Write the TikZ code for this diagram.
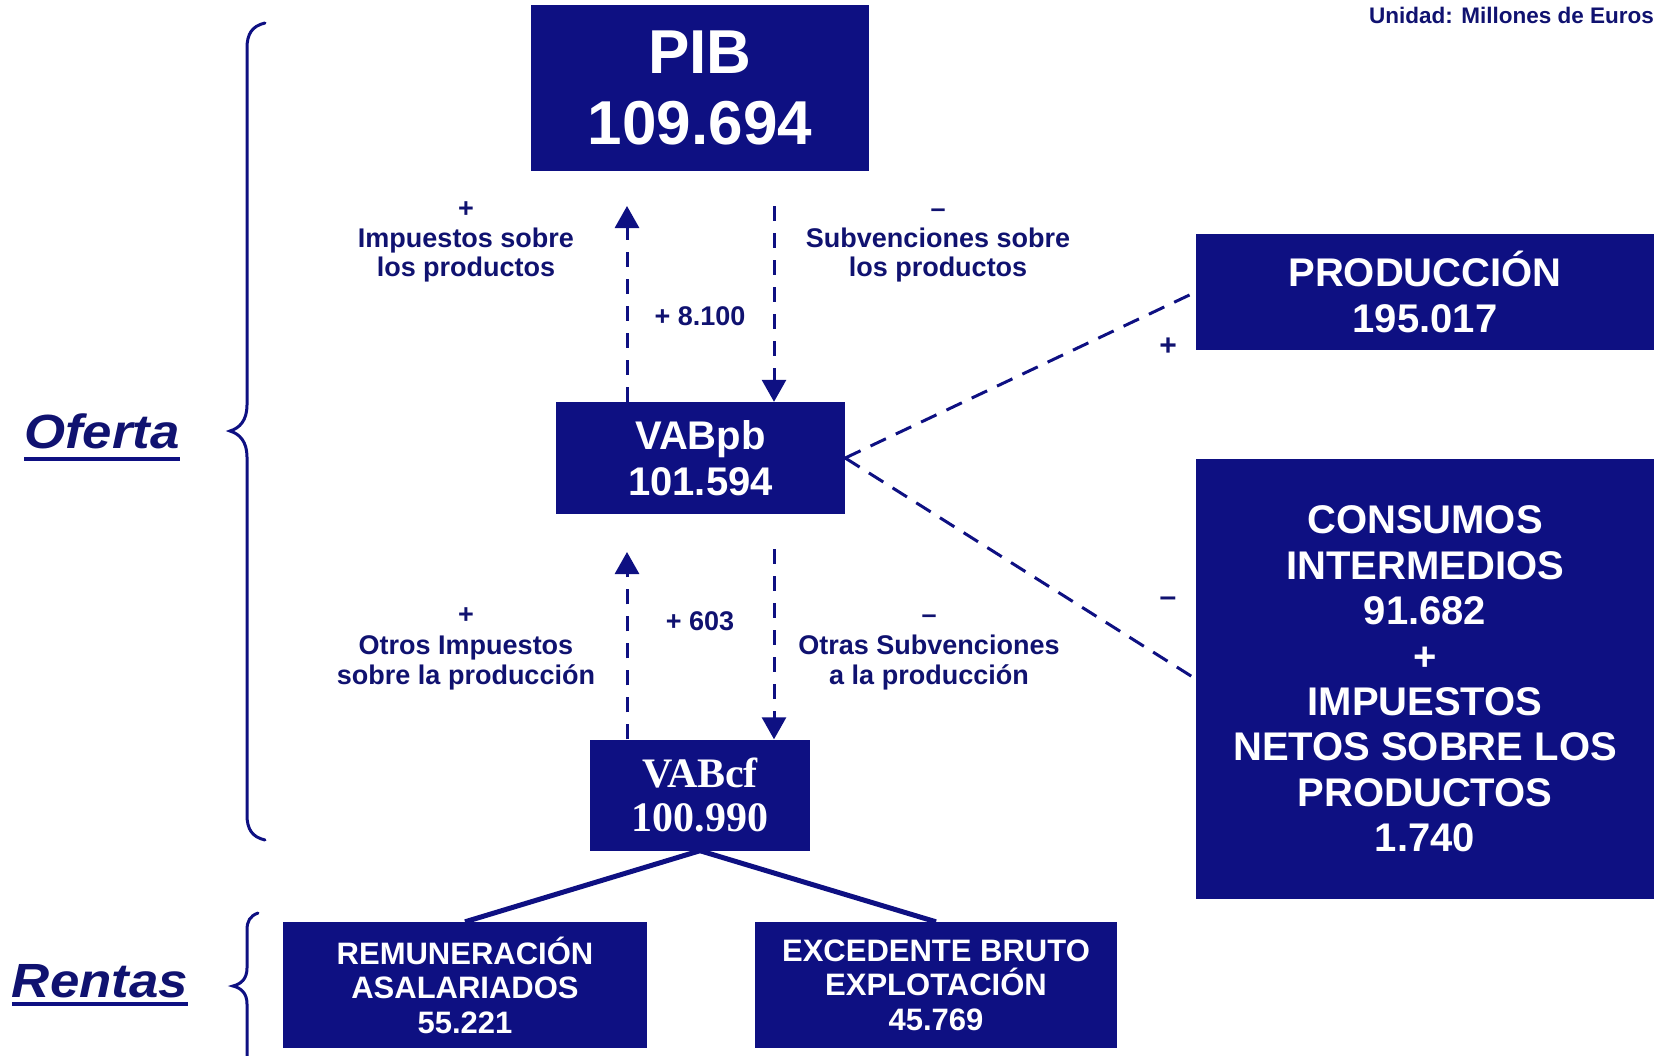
\documentclass[tikz,border=0pt]{standalone}
\usepackage{fontspec}
\setmainfont{Liberation Sans}
\newfontfamily\serifbold{Liberation Serif}
\newfontfamily\widesans[FakeStretch=1.1]{Liberation Sans}
\usetikzlibrary{arrows.meta}
\definecolor{navy}{RGB}{14,16,130}
\definecolor{navytext}{RGB}{16,18,112}
\tikzset{
  box/.style={fill=navy, text=white, inner sep=0pt, align=center},
  bigtxt/.style={font=\bfseries\fontsize{62}{71}\selectfont},
  midtxt/.style={font=\bfseries\fontsize{40}{46}\selectfont},
  smalltxt/.style={font=\bfseries\fontsize{31}{34.5}\selectfont},
  lbl/.style={text=navytext, inner sep=0pt, anchor=base, font=\bfseries\fontsize{27}{29}\selectfont},
  sign/.style={text=navytext, inner sep=0pt, font=\bfseries\fontsize{30}{32}\selectfont},
  dasharrow/.style={draw=navy, line width=3pt, dash pattern=on 15pt off 12pt, -{Triangle[length=22pt,width=24pt]}},
  diag/.style={draw=navy, line width=3pt, dash pattern=on 17pt off 11pt},
  solidline/.style={draw=navy, line width=5pt},
  bracepath/.style={draw=navy, line width=3pt, line cap=round},
  title/.style={text=navytext, inner sep=0pt, anchor=base, font=\widesans\bfseries\itshape\fontsize{48}{50}\selectfont}
}
\begin{document}
\begin{tikzpicture}[x=1pt,y=-1pt]
\useasboundingbox (0,0) rectangle (1656,1055);

% boxes
\node[box, bigtxt, minimum width=338pt, minimum height=166pt] (pib) at (700,88) {PIB\\109.694};
\node[box, midtxt, minimum width=289pt, minimum height=112pt] (vabpb) at (700.5,458) {VABpb\\101.594};
\node[box, font=\serifbold\bfseries\fontsize{42}{44}\selectfont, minimum width=220pt, minimum height=111pt] (vabcf) at (700,795) {VABcf\\100.990};
\node[box, midtxt, minimum width=458pt, minimum height=116pt] (prod) at (1425,292) {PRODUCCIÓN\\195.017};
\node[box, font=\bfseries\fontsize{40}{45.4}\selectfont, minimum width=458pt, minimum height=440pt] (cons) at (1425,679) {CONSUMOS\\INTERMEDIOS\\91.682\\+\\IMPUESTOS\\NETOS SOBRE LOS\\PRODUCTOS\\1.740};
\node[box, smalltxt, minimum width=364pt, minimum height=126pt] (rem) at (465,985) {REMUNERACIÓN\\ASALARIADOS\\55.221};
\node[box, smalltxt, minimum width=362pt, minimum height=126pt] (exc) at (936,985) {EXCEDENTE BRUTO\\EXPLOTACIÓN\\45.769};

% unit
\node[text=navytext, inner sep=0pt, anchor=base east, font=\bfseries\fontsize{22.5}{24}\selectfont] (unit) at (1654,23) {Unidad: Millones de Euros};

% side titles
\node[title] (oferta) at (102,448) {Oferta};
\draw[draw=navy, line width=3.5pt] ([yshift=-11pt]oferta.base west) -- ([yshift=-11pt]oferta.base east);
\node[title] (rentas) at (100,997) {Rentas};
\draw[draw=navy, line width=3.5pt] ([yshift=-7pt]rentas.base west) -- ([yshift=-7pt]rentas.base east);

% braces
\draw[bracepath] (265,23) .. controls (252,26) and (247,34) .. (247,48) -- (247,405)
  .. controls (247,420) and (240,428) .. (230,431)
  .. controls (240,434) and (247,442) .. (247,457) -- (247,815)
  .. controls (247,829) and (252,837) .. (265,840);
\draw[bracepath] (258,913) .. controls (250,916) and (247,921) .. (247,930) -- (247,968)
  .. controls (247,979) and (241,984) .. (233,986)
  .. controls (241,988) and (247,993) .. (247,1004) -- (247,1060);

% vertical arrows
\coordinate (t1) at (627,206);
\coordinate (s1) at (774,206);
\coordinate (t2) at (627,552);
\coordinate (s2) at (774,549);
\draw[dasharrow] (vabpb.north -| t1) -- (t1);
\draw[dasharrow] (s1) -- (s1 |- vabpb.north);
\draw[dasharrow] (vabcf.north -| t2) -- (t2);
\draw[dasharrow] (s2) -- (s2 |- vabcf.north);

% diagonal dashed lines
\draw[diag] (vabpb.east) -- (prod.west);
\draw[diag] (vabpb.east) -- (cons.west);
\node[sign] (plusr) at (1168,347) {+};
\node[sign] (minusr) at (1168,602) {–};

% solid lines
\draw[solidline] (vabcf.south) -- (rem.north);
\draw[solidline] (vabcf.south) -- (exc.north);

% labels upper
\node[lbl] (ua0) at (466,217) {+};
\node[lbl] (ua1) at (466,247) {Impuestos sobre};
\node[lbl] (ua2) at (466,276) {los productos};
\node[lbl] (ub0) at (938,217) {–};
\node[lbl] (ub1) at (938,247) {Subvenciones sobre};
\node[lbl] (ub2) at (938,276) {los productos};
\node[lbl] (uv) at (700,325) {+ 8.100};

% labels lower
\node[lbl] (la0) at (466,623) {+};
\node[lbl] (la1) at (466,654) {Otros Impuestos};
\node[lbl] (la2) at (466,684) {sobre la producción};
\node[lbl] (lb0) at (929,623) {–};
\node[lbl] (lb1) at (929,654) {Otras Subvenciones};
\node[lbl] (lb2) at (929,684) {a la producción};
\node[lbl] (lv) at (700,630) {+ 603};
\end{tikzpicture}
\end{document}
